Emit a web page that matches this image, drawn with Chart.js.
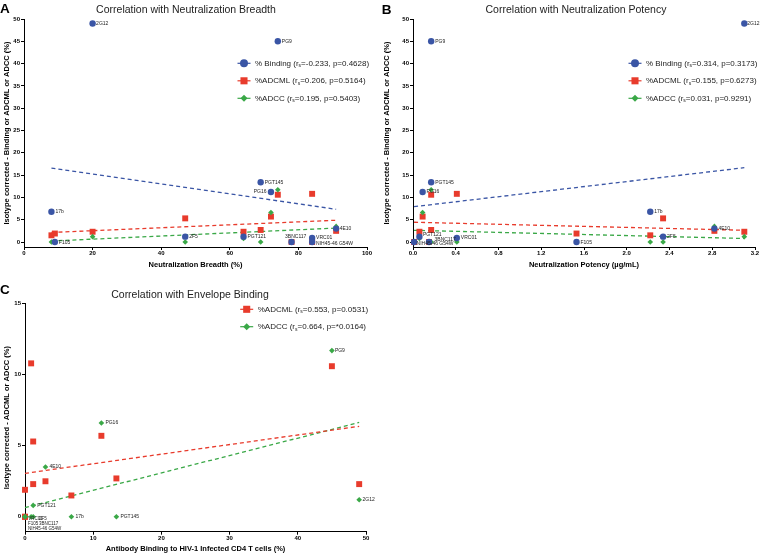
<!DOCTYPE html>
<html>
<head>
<meta charset="utf-8">
<script src="https://cdn.jsdelivr.net/npm/chart.js@4/dist/chart.umd.min.js"></script>
<style>
  body { margin: 0; background: #fff; width: 760px; height: 554px; position: relative; overflow: hidden; }
  canvas { position: absolute; }
</style>
</head>
<body>
<canvas id="chartA" width="380" height="280" style="left:0;top:0"></canvas>
<canvas id="chartB" width="380" height="280" style="left:380px;top:0"></canvas>
<canvas id="chartC" width="380" height="274" style="left:0;top:280px"></canvas>
<script>
// ---- data ----
var antibodies = ['2G12', 'PG9', 'PGT145', 'PG16', '17b', '4E10', '2F5', 'PGT121', 'F105', '3BNC117', 'VRC01', 'NIH45-46 G54W'];
var breadth = [20, 74, 69, 72, 8, 91, 47, 64, 9, 78, 84, 84];
var potency = [3.10, 0.17, 0.17, 0.09, 2.22, 2.82, 2.34, 0.06, 1.53, 0.15, 0.41, 0.01];
var binding = [49, 45, 13.4, 11.2, 6.8, 3.0, 1.2, 1.2, 0, 0, 0.9, 0];
var adcml = [2.3, 10.6, 2.7, 5.7, 1.5, 2.5, 5.3, 2.3, 1.9, 0, 10.8, 0];
var adcc = [1.2, 11.7, 0, 6.6, 0, 3.5, 0, 0.8, 0, 0, 0, 0];

var seriesNames = ['% Binding', '%ADCML', '%ADCC'];
var rsA = ['-0.233', '0.206', '0.195'];
var pA = ['0.4628', '0.5164', '0.5403'];
var rsB = ['0.314', '0.155', '0.031'];
var pB = ['0.3173', '0.6273', '0.9291'];
var rsC = ['0.553', '0.664'];
var pC = ['0.0531', '*0.0164'];

var yTicksAB = [0, 5, 10, 15, 20, 25, 30, 35, 40, 45, 50];
var xTicksA = [0, 20, 40, 60, 80, 100];
var xTicksB = [0, 0.4, 0.8, 1.2, 1.6, 2.0, 2.4, 2.8, 3.2];
var xTicksC = [0, 10, 20, 30, 40, 50];
var yTicksC = [0, 5, 10, 15];

// ---- styles ----
var FONT = 'Arial, "Liberation Sans", Helvetica, sans-serif';
var BLUE = '#3a55a5';
var RED = '#e83b2c';
var GREEN = '#3aa847';

Chart.defaults.font.family = FONT;
Chart.defaults.color = '#000';

function pts(xs, ys) {
    return xs.map(function (x, i) { return { x: x, y: ys[i] }; });
}

// least squares line over the x range of the data
function fitLine(xs, ys) {
    var n = xs.length, mx = 0, my = 0, sxy = 0, sxx = 0;
    for (var i = 0; i < n; i++) { mx += xs[i]; my += ys[i]; }
    mx /= n; my /= n;
    for (var j = 0; j < n; j++) {
        sxy += (xs[j] - mx) * (ys[j] - my);
        sxx += (xs[j] - mx) * (xs[j] - mx);
    }
    var b = sxy / sxx, a = my - b * mx;
    var lo = Math.min.apply(null, xs), hi = Math.max.apply(null, xs);
    return [{ x: lo, y: a + b * lo }, { x: hi, y: a + b * hi }];
}

function pointSet(label, xs, ys, color, style, radius) {
    return {
        label: label, data: pts(xs, ys), showLine: false,
        pointStyle: style, pointRadius: radius, pointHoverRadius: radius,
        backgroundColor: color, borderColor: color, pointBorderWidth: 0, clip: false
    };
}

function fitSet(xs, ys, color) {
    return {
        data: fitLine(xs, ys), showLine: true, borderColor: color, borderWidth: 1.3,
        borderDash: [4, 3], pointRadius: 0, pointHoverRadius: 0, clip: false
    };
}

function xAxis(min, max, ticks, title, height, titlePad, fmt) {
    return {
        type: 'linear', min: min, max: max,
        afterBuildTicks: function (s) { s.ticks = ticks.map(function (v) { return { value: v }; }); },
        afterFit: function (s) { s.height = height; },
        grid: { drawOnChartArea: false, drawTicks: true, tickLength: 3, color: '#000' },
        border: { color: '#000', width: 1 },
        ticks: {
            autoSkip: false, maxRotation: 0, minRotation: 0, padding: 0, color: '#000',
            font: { size: 6, weight: 'bold' },
            callback: fmt || function (v) { return String(v); }
        },
        title: { display: true, text: title, color: '#000', font: { size: 7.5, weight: 'bold' }, padding: { top: 0, bottom: titlePad } }
    };
}

function yAxis(min, max, ticks, title, width) {
    return {
        type: 'linear', min: min, max: max,
        afterBuildTicks: function (s) { s.ticks = ticks.map(function (v) { return { value: v }; }); },
        afterFit: function (s) { s.width = width; },
        grid: { drawOnChartArea: false, drawTicks: true, tickLength: 3, color: '#000' },
        border: { color: '#000', width: 1 },
        ticks: { autoSkip: false, padding: 1, color: '#000', font: { size: 6, weight: 'bold' } },
        title: { display: true, text: title, color: '#000', font: { size: 7.5, weight: 'bold' }, padding: { top: 2, bottom: 0 } }
    };
}

// panel letter, title, inside legend and antibody labels
var panelPlugin = {
    id: 'panel',
    afterDatasetsDraw: function (chart) {
        var o = chart.options.plugins.panel;
        var ctx = chart.ctx;
        var meta = chart.getDatasetMeta(o.labelDataset);
        ctx.save();
        ctx.fillStyle = '#222';
        ctx.textBaseline = 'middle';
        meta.data.forEach(function (pt, i) {
            var name = antibodies[i];
            var off = o.labelOffsets[name] || {};
            ctx.textAlign = off.align || 'left';
            ctx.font = (off.size || 5) + 'px ' + FONT;
            ctx.fillText(name, pt.x + (off.dx !== undefined ? off.dx : 4), pt.y + (off.dy || 0));
        });
        ctx.restore();
    },
    afterDraw: function (chart) {
        var o = chart.options.plugins.panel;
        var ctx = chart.ctx;
        ctx.save();
        ctx.fillStyle = '#000';
        ctx.textBaseline = 'alphabetic';
        ctx.textAlign = 'left';
        ctx.font = 'bold 13.5px ' + FONT;
        ctx.fillText(o.letter, o.letterX, o.letterY);
        ctx.fillStyle = '#222';
        ctx.textAlign = 'center';
        ctx.font = '10.5px ' + FONT;
        ctx.fillText(o.title, o.titleX, o.titleY);

        // legend
        ctx.textBaseline = 'middle';
        o.legend.forEach(function (it, k) {
            var y = o.legendY + k * o.legendGap;
            var mx = o.legendX;
            ctx.strokeStyle = it.color;
            ctx.fillStyle = it.color;
            ctx.lineWidth = 1.2;
            ctx.beginPath();
            ctx.moveTo(mx - 6.5, y);
            ctx.lineTo(mx + 6.5, y);
            ctx.stroke();
            Chart.helpers.drawPoint(ctx, { pointStyle: it.style, radius: it.radius, rotation: 0, borderWidth: 0 }, mx, y);
            ctx.fillStyle = '#222';
            ctx.textAlign = 'left';
            var tx = mx + 11;
            ctx.font = '8px ' + FONT;
            var a = it.name + ' (r';
            ctx.fillText(a, tx, y);
            tx += ctx.measureText(a).width;
            ctx.font = '5px ' + FONT;
            ctx.fillText('s', tx, y + 2.5);
            tx += ctx.measureText('s').width;
            ctx.font = '8px ' + FONT;
            ctx.fillText('=' + it.rs + ', p=' + it.p + ')', tx, y);
        });
        ctx.restore();
    }
};

function legendItems(names, colors, styles, radii, rs, p) {
    return names.map(function (n, i) {
        return { name: n, color: colors[i], style: styles[i], radius: radii[i], rs: rs[i], p: p[i] };
    });
}

var baseOpts = {
    responsive: false,
    animation: false,
    events: []
};

// ---- Panel A ----
new Chart(document.getElementById('chartA'), {
    type: 'scatter',
    data: {
        datasets: [
            pointSet(seriesNames[0], breadth, binding, BLUE, 'circle', 3.2),
            pointSet(seriesNames[2], breadth, adcc, GREEN, 'rectRot', 2.8),
            pointSet(seriesNames[1], breadth, adcml, RED, 'rect', 4.2),
            fitSet(breadth, binding, BLUE),
            fitSet(breadth, adcml, RED),
            fitSet(breadth, adcc, GREEN)
        ]
    },
    options: Object.assign({}, baseOpts, {
        layout: { padding: { left: 0, top: 19, right: 13, bottom: 0 } },
        scales: {
            x: xAxis(0, 100, xTicksA, 'Neutralization Breadth (%)', 33, 10.5),
            y: yAxis(-1.12, 50, yTicksAB, 'Isotype corrected - Binding or ADCML or ADCC (%)', 24)
        },
        plugins: {
            legend: { display: false },
            tooltip: { enabled: false },
            panel: {
                letter: 'A', letterX: 0, letterY: 12.7,
                title: 'Correlation with Neutralization Breadth', titleX: 186, titleY: 12.7,
                legend: legendItems(seriesNames, [BLUE, RED, GREEN], ['circle', 'rect', 'rectRot'], [4, 5, 3.5], rsA, pA),
                legendX: 244, legendY: 63.3, legendGap: 17.5,
                labelDataset: 0,
                labelOffsets: {
                    'PG16': { dx: -4.5, align: 'right' },
                    '3BNC117': { dx: -6.5, dy: -5 },
                    'NIH45-46 G54W': { dy: 1.8 },
                    'F105': { dy: 0.6 },
                    '2G12': { dx: 3.5 },
                    '4E10': { dx: 3.5 }
                }
            }
        }
    }),
    plugins: [panelPlugin]
});

// ---- Panel B ----
new Chart(document.getElementById('chartB'), {
    type: 'scatter',
    data: {
        datasets: [
            pointSet(seriesNames[0], potency, binding, BLUE, 'circle', 3.2),
            pointSet(seriesNames[2], potency, adcc, GREEN, 'rectRot', 2.8),
            pointSet(seriesNames[1], potency, adcml, RED, 'rect', 4.2),
            fitSet(potency, binding, BLUE),
            fitSet(potency, adcml, RED),
            fitSet(potency, adcc, GREEN)
        ]
    },
    options: Object.assign({}, baseOpts, {
        layout: { padding: { left: 0, top: 19, right: 5, bottom: 0 } },
        scales: {
            x: xAxis(0, 3.2, xTicksB, 'Neutralization Potency (\u00b5g/mL)', 33, 10.5, function (v) { return v.toFixed(1); }),
            y: yAxis(-1.12, 50, yTicksAB, 'Isotype corrected - Binding or ADCML or ADCC (%)', 33)
        },
        plugins: {
            legend: { display: false },
            tooltip: { enabled: false },
            panel: {
                letter: 'B', letterX: 1.7, letterY: 14.3,
                title: 'Correlation with Neutralization Potency', titleX: 196, titleY: 12.7,
                legend: legendItems(seriesNames, [BLUE, RED, GREEN], ['circle', 'rect', 'rectRot'], [4, 5, 3.5], rsB, pB),
                legendX: 255, legendY: 63.3, legendGap: 17.5,
                labelDataset: 0,
                labelOffsets: {
                    'PGT121': { dx: 3.5, dy: -1.8 },
                    '3BNC117': { dx: 5.5, dy: -2.7 },
                    'NIH45-46 G54W': { dx: 2.5, dy: 2 },
                    '2G12': { dx: 3 },
                    'F105': { dy: 0.6 }
                }
            }
        }
    }),
    plugins: [panelPlugin]
});

// ---- Panel C ----
new Chart(document.getElementById('chartC'), {
    type: 'scatter',
    data: {
        datasets: [
            pointSet(seriesNames[2], binding, adcc, GREEN, 'rectRot', 2.8),
            pointSet(seriesNames[1], binding, adcml, RED, 'rect', 4.2),
            fitSet(binding, adcml, RED),
            fitSet(binding, adcc, GREEN)
        ]
    },
    options: Object.assign({}, baseOpts, {
        layout: { padding: { left: 0, top: 23.7, right: 14, bottom: 0 } },
        scales: {
            x: xAxis(0, 50, xTicksC, 'Antibody Binding to HIV-1 Infected CD4 T cells (%)', 22.3, 0.5),
            y: yAxis(-1.05, 15, yTicksC, 'Isotype corrected - ADCML or ADCC (%)', 25)
        },
        plugins: {
            legend: { display: false },
            tooltip: { enabled: false },
            panel: {
                letter: 'C', letterX: 0, letterY: 14.3,
                title: 'Correlation with Envelope Binding', titleX: 190, titleY: 17.7,
                legend: legendItems(seriesNames.slice(1), [RED, GREEN], ['rect', 'rectRot'], [5, 3.5], rsC, pC),
                legendX: 246.7, legendY: 29.3, legendGap: 17.4,
                labelDataset: 0,
                labelOffsets: {
                    'VRC01': { dx: -3, dy: 2.4, size: 4.5 },
                    '2F5': { dx: 5.8, dy: 2.4, size: 4.5 },
                    'F105': { dx: 3, dy: 7.4, size: 4.5 },
                    '3BNC117': { dx: 14, dy: 7.4, size: 4.5 },
                    'NIH45-46 G54W': { dx: 3, dy: 11.6, size: 4.5 },
                    'PG9': { dx: 3 },
                    '2G12': { dx: 3.3 }
                }
            }
        }
    }),
    plugins: [panelPlugin]
});
</script>
</body>
</html>
